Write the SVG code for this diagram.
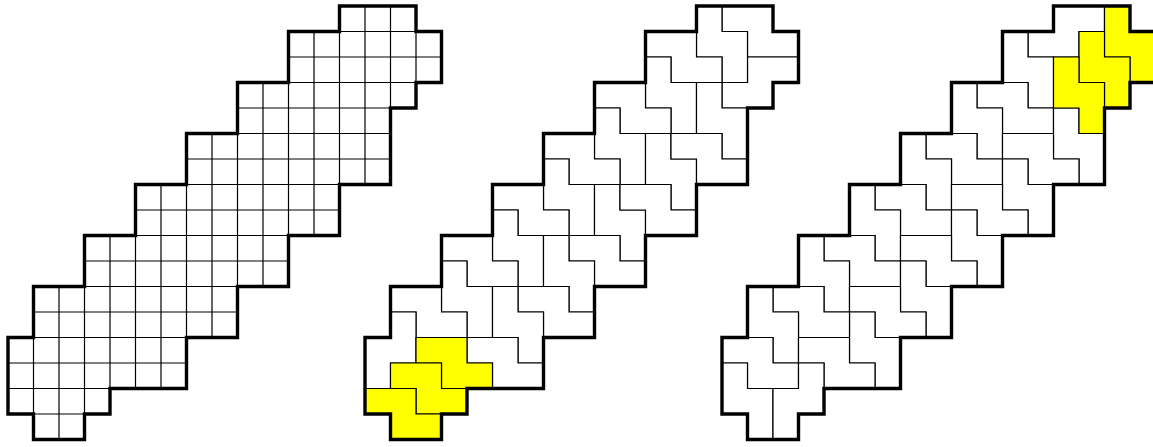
<svg xmlns="http://www.w3.org/2000/svg" xmlns:xlink="http://www.w3.org/1999/xlink" width="1153" height="447" viewBox="0 0 1153 447">
<style>
.t{fill:#fff;stroke:#000;stroke-width:1.2;vector-effect:non-scaling-stroke;stroke-linejoin:miter}
.y{fill:#ff0;stroke:#000;stroke-width:1.2;vector-effect:non-scaling-stroke;stroke-linejoin:miter}
.g{fill:none;stroke:#000;stroke-width:1.2;vector-effect:non-scaling-stroke}
.edge{fill:none;stroke:#000;stroke-width:3.4;stroke-linejoin:miter}
</style>
<defs>
<path id="outline" vector-effect="non-scaling-stroke" d="M13 0H16V1H17V3H16V4H15V7H13V9H11V11H9V13H7V15H4V16H3V17H1V16H0V13H1V11H3V9H5V7H7V5H9V3H11V1H13Z"/>
</defs>
<rect width="1153" height="447" fill="#fff"/>

<g id="grid-region" transform="translate(8,6) scale(25.5)">
<path class="g" d="M13 1H16M11 2H17M11 3H16M9 4H15M9 5H15M7 6H15M7 7H13M5 8H13M5 9H11M3 10H11M3 11H9M1 12H9M1 13H7M0 14H7M0 15H4M1 16H3M1 13V16M2 11V17M3 11V16M4 9V15M5 9V15M6 7V15M7 7V13M8 5V13M9 5V11M10 3V11M11 3V9M12 1V9M13 1V7M14 0V7M15 0V4M16 1V3"/>
<use xlink:href="#outline" href="#outline" class="edge"/>
</g>

<g id="tiling-b" transform="translate(365,6) scale(25.5)">
<path id="b1" class="t" d="M14 0H16V1H17V2H15V1H14Z"/>
<path id="b2" class="t" d="M15 2H17V3H16V4H14V3H15Z"/>
<path id="b3" class="t" d="M13 0H14V1H15V3H14V2H13Z"/>
<path id="b4" class="t" d="M11 1H13V2H14V3H12V2H11Z"/>
<path id="b5" class="t" d="M11 2H12V3H13V5H12V4H11Z"/>
<path id="b6" class="t" d="M13 3H14V4H15V6H14V5H13Z"/>
<path id="b7" class="t" d="M9 3H11V4H12V5H10V4H9Z"/>
<path id="b8" class="t" d="M9 4H10V5H11V7H10V6H9Z"/>
<path id="b9" class="t" d="M11 5H12V6H13V8H12V7H11Z"/>
<path id="b10" class="t" d="M12 5H14V6H15V7H13V6H12Z"/>
<path id="b11" class="t" d="M7 5H9V6H10V7H8V6H7Z"/>
<path id="b12" class="t" d="M7 6H8V7H9V9H8V8H7Z"/>
<path id="b13" class="t" d="M9 7H10V8H11V10H10V9H9Z"/>
<path id="b14" class="t" d="M10 7H12V8H13V9H11V8H10Z"/>
<path id="b15" class="t" d="M5 7H7V8H8V9H6V8H5Z"/>
<path id="b16" class="t" d="M5 8H6V9H7V11H6V10H5Z"/>
<path id="b17" class="t" d="M8 9H10V10H11V11H9V10H8Z"/>
<path id="b18" class="t" d="M7 9H8V10H9V12H8V11H7Z"/>
<path id="b19" class="t" d="M3 9H5V10H6V11H4V10H3Z"/>
<path id="b20" class="t" d="M3 10H4V11H5V13H4V12H3Z"/>
<path id="b21" class="t" d="M6 11H8V12H9V13H7V12H6Z"/>
<path id="b22" class="t" d="M5 11H6V12H7V14H6V13H5Z"/>
<path id="b23" class="t" d="M1 11H3V12H4V13H2V12H1Z"/>
<path id="b24" class="t" d="M1 12H2V14H1V15H0V13H1Z"/>
<path id="b28" class="t" d="M4 13H6V14H7V15H5V14H4Z"/>
<path id="b25" class="y" d="M2 13H4V14H5V15H3V14H2Z"/>
<path id="b26" class="y" d="M1 14H3V15H4V16H2V15H1Z"/>
<path id="b27" class="y" d="M0 15H2V16H3V17H1V16H0Z"/>
<use xlink:href="#outline" href="#outline" class="edge"/>
</g>

<g id="tiling-c" transform="translate(722,6) scale(25.5)">
<path id="c1" class="t" d="M13 0H15V1H14V2H12V1H13Z"/>
<path id="c2" class="t" d="M11 1H12V2H13V4H12V3H11Z"/>
<path id="c3" class="t" d="M10 3H12V4H13V5H11V4H10Z"/>
<path id="c4" class="t" d="M9 3H10V4H11V6H10V5H9Z"/>
<path id="c5" class="t" d="M13 4H14V5H15V7H14V6H13Z"/>
<path id="c6" class="t" d="M11 5H13V6H14V7H12V6H11Z"/>
<path id="c7" class="t" d="M8 5H10V6H11V7H9V6H8Z"/>
<path id="c8" class="t" d="M7 5H8V6H9V8H8V7H7Z"/>
<path id="c9" class="t" d="M11 6H12V7H13V9H12V8H11Z"/>
<path id="c10" class="t" d="M9 7H11V8H12V9H10V8H9Z"/>
<path id="c11" class="t" d="M6 7H8V8H9V9H7V8H6Z"/>
<path id="c12" class="t" d="M5 7H6V8H7V10H6V9H5Z"/>
<path id="c13" class="t" d="M9 8H10V9H11V11H10V10H9Z"/>
<path id="c14" class="t" d="M7 9H9V10H10V11H8V10H7Z"/>
<path id="c15" class="t" d="M4 9H6V10H7V11H5V10H4Z"/>
<path id="c16" class="t" d="M3 9H4V10H5V12H4V11H3Z"/>
<path id="c17" class="t" d="M7 10H8V11H9V13H8V12H7Z"/>
<path id="c18" class="t" d="M5 11H7V12H8V13H6V12H5Z"/>
<path id="c19" class="t" d="M5 12H6V13H7V15H6V14H5Z"/>
<path id="c20" class="t" d="M2 11H4V12H5V13H3V12H2Z"/>
<path id="c21" class="t" d="M1 11H2V12H3V14H2V13H1Z"/>
<path id="c22" class="t" d="M0 13H2V14H3V15H1V14H0Z"/>
<path id="c23" class="t" d="M3 13H5V14H6V15H4V14H3Z"/>
<path id="c24" class="t" d="M0 14H1V15H2V17H1V16H0Z"/>
<path id="c25" class="t" d="M3 14H4V16H3V17H2V15H3Z"/>
<path id="cy1" class="y" d="M15 0H16V1H17V3H16V2H15Z"/>
<path id="cy2" class="y" d="M14 1H15V2H16V4H15V3H14Z"/>
<path id="cy3" class="y" d="M13 2H14V3H15V5H14V4H13Z"/>
<use xlink:href="#outline" href="#outline" class="edge"/>
</g>
</svg>
